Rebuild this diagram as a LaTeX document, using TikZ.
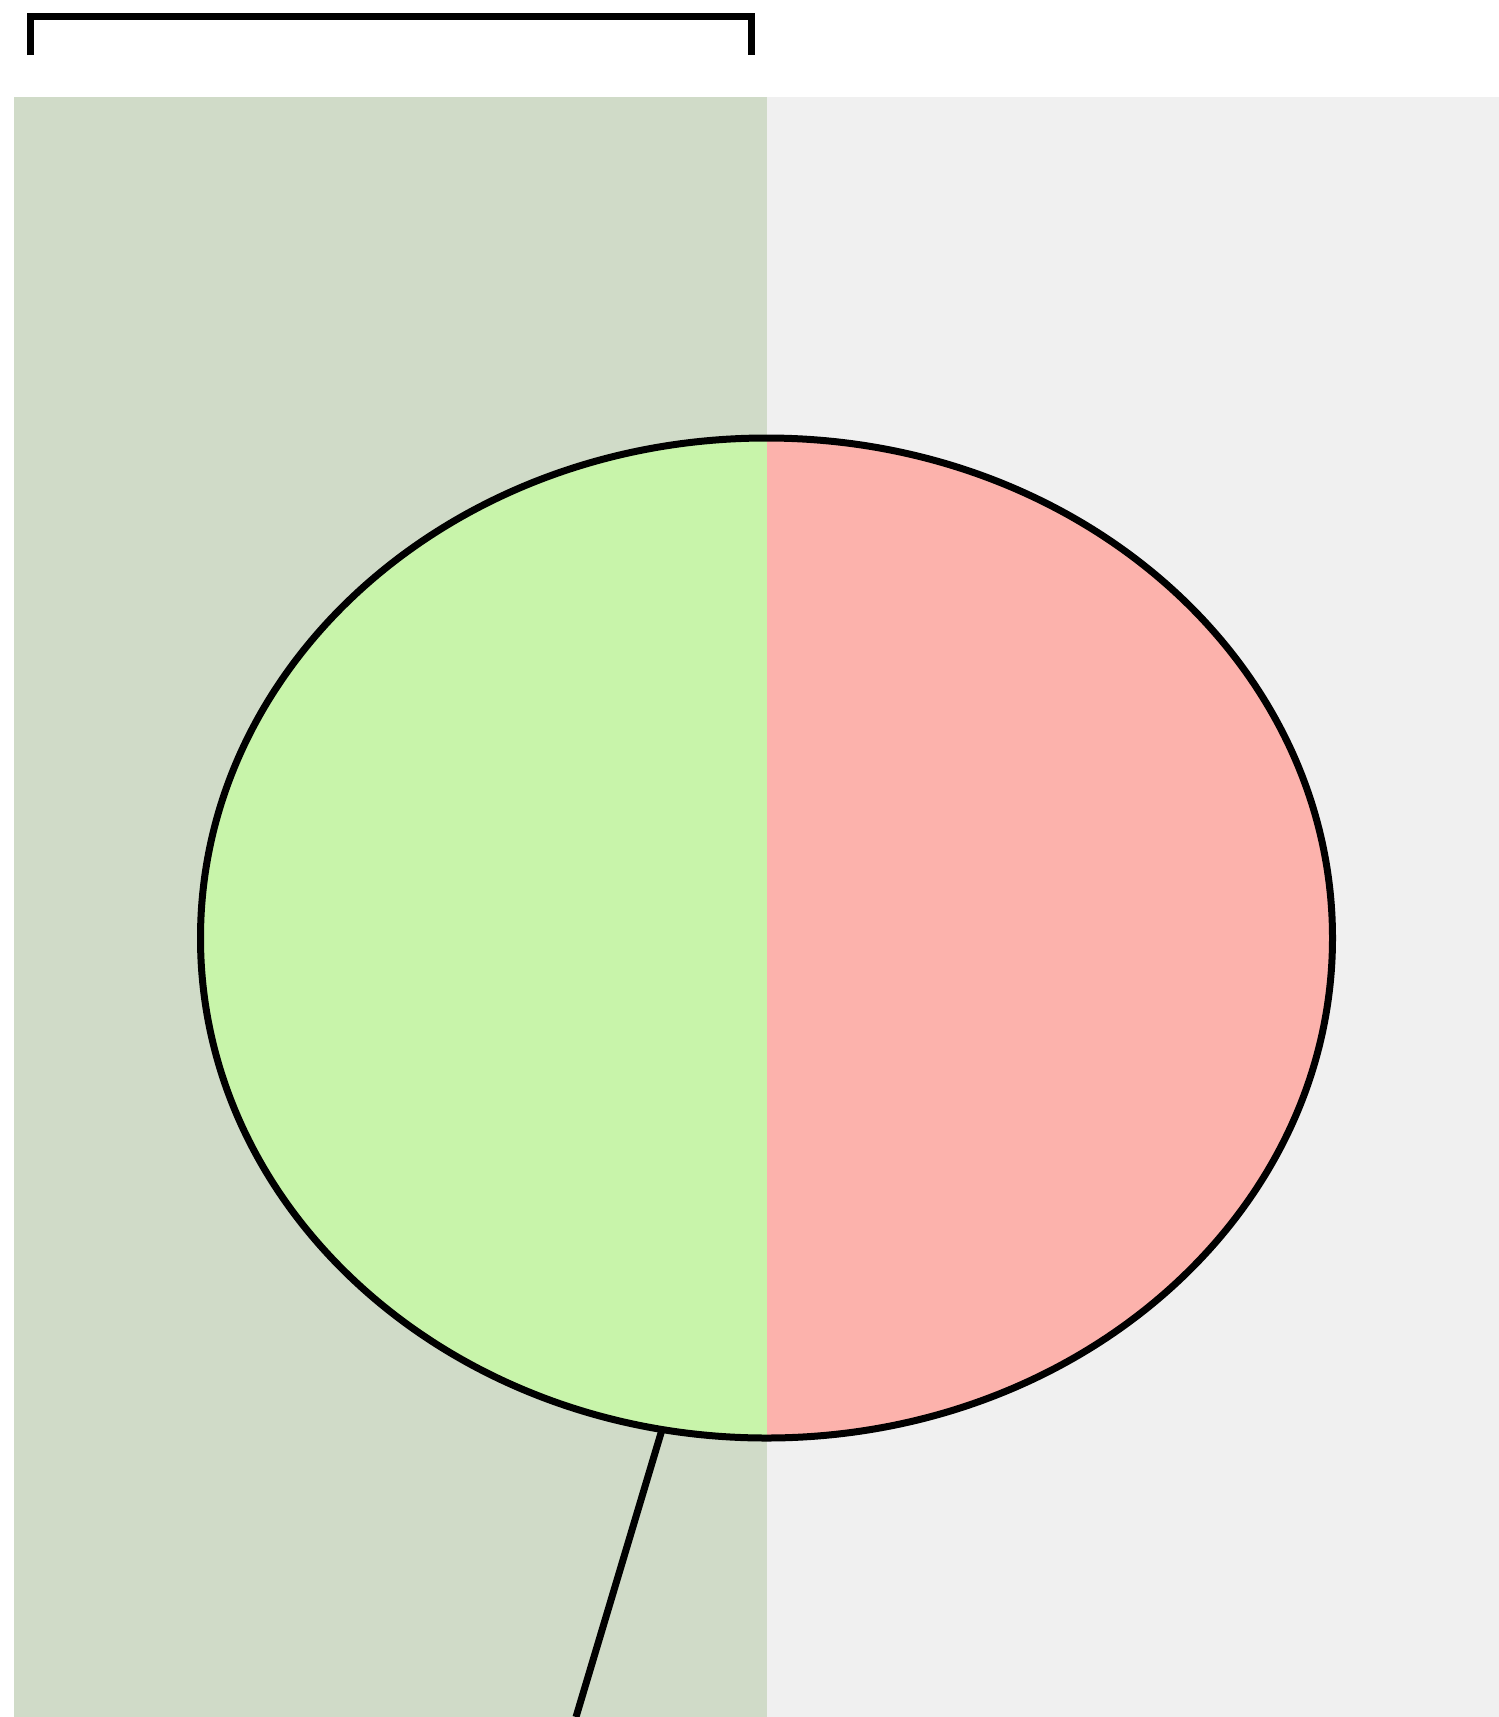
\documentclass[tikz,border=0pt]{standalone}
\usetikzlibrary{shapes.geometric}
\definecolor{panelgreen}{HTML}{D0DBC8}
\definecolor{panelgrey}{HTML}{F0F0F0}
\definecolor{halfgreen}{HTML}{C8F4AA}
\definecolor{halfpink}{HTML}{FCB2AC}
\begin{document}
\begin{tikzpicture}[x=1pt,y=-1pt,
  outline/.style={draw=black, line width=7pt},
  bracketline/.style={draw=black, line width=7pt, line join=miter}]
\useasboundingbox (0,0) rectangle (1499,1717);
\fill[white] (0,0) rectangle (1499,1717);
% panels
\fill[panelgreen] (14,96.5) rectangle (766.5,1717);
\fill[panelgrey] (766.5,96.5) rectangle (1499,1717);
% ellipse halves
\begin{scope}
  \clip (766.5,938) ellipse [x radius=566, y radius=500];
  \fill[halfgreen] (190,430) rectangle (766.5,1445);
  \fill[halfpink] (766.5,430) rectangle (1345,1445);
\end{scope}
\node[ellipse, outline, minimum width=1132pt, minimum height=1000pt, inner sep=0pt, outer sep=0pt] (e) at (766.5,938) {};
% stem
\coordinate (tail) at (576,1717);
\draw[outline] (e.258.8) -- (tail);
% bracket
\coordinate (bl) at (30,55);
\coordinate (br) at (751,55);
\draw[bracketline] (bl) -- (bl |- 0,16.5) -- (br |- 0,16.5) -- (br);
\end{tikzpicture}
\end{document}
